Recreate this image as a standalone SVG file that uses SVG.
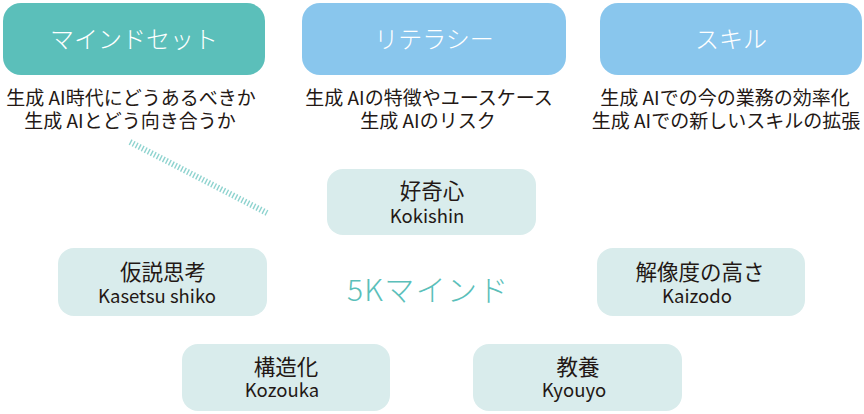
<svg xmlns="http://www.w3.org/2000/svg" width="864" height="414" viewBox="0 0 864 414">
<style>
text{font-family:"Noto Sans CJK JP","Noto Sans",sans-serif;}
.hd{font-size:24px;fill:#ffffff;text-anchor:middle;font-weight:300;}
.ds{font-size:19px;fill:#231815;text-anchor:middle;}
.nb{fill:#d9ecec;}
.jp{font-size:21.5px;fill:#231815;text-anchor:middle;}
.ro{font-size:18.5px;fill:#231815;text-anchor:middle;}
</style>
<rect width="864" height="414" fill="#ffffff"/>
<g id="mindset">
<rect x="3" y="3" width="262" height="72" rx="18" fill="#5bbfba"/>
<text class="hd" x="134" y="48">マインドセット</text>
<text class="ds" x="131" y="105">生成 AI時代にどうあるべきか</text>
<text class="ds" x="130" y="128">生成 AIとどう向き合うか</text>
</g>
<g id="literacy">
<rect x="302" y="3" width="264" height="72" rx="18" fill="#89c6ed"/>
<text class="hd" x="434" y="48">リテラシー</text>
<text class="ds" x="429" y="105">生成 AIの特徴やユースケース</text>
<text class="ds" x="428" y="128">生成 AIのリスク</text>
</g>
<g id="skill">
<rect x="600" y="3" width="262" height="72" rx="18" fill="#89c6ed"/>
<text class="hd" x="731" y="48">スキル</text>
<text class="ds" x="725" y="105">生成 AIでの今の業務の効率化</text>
<text class="ds" x="726" y="128">生成 AIでの新しいスキルの拡張</text>
</g>
<g id="connectors">
<line x1="130" y1="142" x2="267" y2="213" stroke="#8ed3cf" stroke-width="6" stroke-dasharray="1.4 2"/>
</g>
<g id="center-label">
<text x="347" y="301" font-size="30" fill="#5bbfba" letter-spacing="1.3" style="font-family:'Noto Sans CJK JP','Noto Sans',sans-serif;font-weight:300">5Kマインド</text>
</g>
<g id="kokishin">
<rect class="nb" x="327" y="169" width="209" height="66" rx="16"/>
<text class="jp" x="432" y="199">好奇心</text>
<text class="ro" x="427" y="223">Kokishin</text>
</g>
<g id="kasetsu">
<rect class="nb" x="58" y="248" width="209" height="68" rx="16"/>
<text class="jp" x="163" y="280">仮説思考</text>
<text class="ro" x="157" y="303">Kasetsu shiko</text>
</g>
<g id="kaizodo">
<rect class="nb" x="597" y="248" width="208" height="68" rx="16"/>
<text class="jp" x="700" y="280">解像度の高さ</text>
<text class="ro" x="697" y="303">Kaizodo</text>
</g>
<g id="kozouka">
<rect class="nb" x="182" y="344" width="208" height="67" rx="16"/>
<text class="jp" x="286" y="375">構造化</text>
<text class="ro" x="282" y="397">Kozouka</text>
</g>
<g id="kyouyo">
<rect class="nb" x="473" y="344" width="209" height="67" rx="16"/>
<text class="jp" x="578" y="375">教養</text>
<text class="ro" x="574" y="397">Kyouyo</text>
</g>
</svg>
